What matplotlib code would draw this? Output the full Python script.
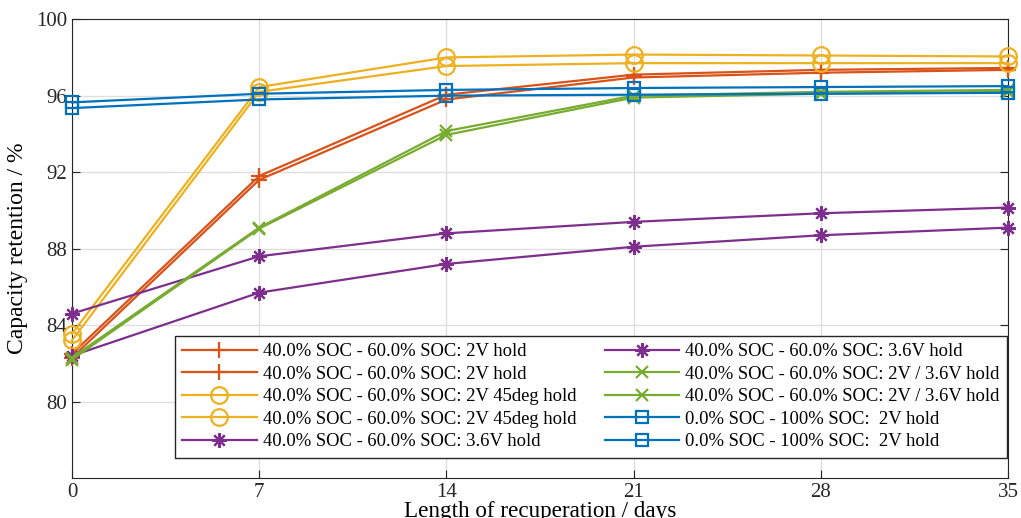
import matplotlib
import matplotlib.pyplot as plt
import numpy as np

matplotlib.rc('font', family='Liberation Serif', size=15)

days = [0, 7, 14, 21, 28, 35]

orange_a = [82.5, 91.8, 96.05, 97.1, 97.35, 97.45]
orange_b = [82.3, 91.6, 95.8, 96.95, 97.2, 97.35]
yellow_a = [83.55, 96.45, 98.0, 98.15, 98.1, 98.05]
yellow_b = [83.2, 96.2, 97.55, 97.7, 97.7, 97.7]
purple_a = [84.6, 87.6, 88.8, 89.4, 89.85, 90.15]
purple_b = [82.4, 85.7, 87.2, 88.1, 88.7, 89.1]
green_a = [82.3, 89.1, 94.15, 96.0, 96.2, 96.3]
green_b = [82.2, 89.05, 93.95, 95.9, 96.1, 96.2]
blue_a = [95.65, 96.1, 96.3, 96.4, 96.45, 96.5]
blue_b = [95.35, 95.8, 96.0, 96.05, 96.1, 96.15]

lbl_2v = '40.0% SOC - 60.0% SOC: 2V hold'
lbl_45 = '40.0% SOC - 60.0% SOC: 2V 45deg hold'
lbl_36 = '40.0% SOC - 60.0% SOC: 3.6V hold'
lbl_mix = '40.0% SOC - 60.0% SOC: 2V / 3.6V hold'
lbl_full = '0.0% SOC - 100% SOC:  2V hold'

series = [
  (orange_a, '#D95319', '+', lbl_2v),
  (orange_b, '#D95319', '+', lbl_2v),
  (yellow_a, '#EDB120', 'o', lbl_45),
  (yellow_b, '#EDB120', 'o', lbl_45),
  (purple_a, '#7E2F8E', (8, 2, 0), lbl_36),
  (purple_b, '#7E2F8E', (8, 2, 0), lbl_36),
  (green_a, '#77AC30', 'x', lbl_mix),
  (green_b, '#77AC30', 'x', lbl_mix),
  (blue_a, '#0072BD', 's', lbl_full),
  (blue_b, '#0072BD', 's', lbl_full),
]

# marker sizes roughly matching the MATLAB look
sizes = {'+': 12, 'o': 12, 'x': 9, 's': 8}

fig = plt.figure(figsize=(10.21, 5.18), dpi=100)
ax = fig.add_axes([0.0705, 0.077, 0.917, 0.886])

for vals, col, mk, lbl in series:
  ms = sizes.get(mk, 10.5) if isinstance(mk, str) else 10.5
  ax.plot(days, vals, color=col, marker=mk, markersize=ms, markerfacecolor='none',
          markeredgewidth=1.6, linewidth=1.6, label=lbl, clip_on=False, zorder=3)

ax.set_xlim(0, 35)
ax.set_ylim(76, 100)
ax.set_xticks(days)
ax.set_yticks([80, 84, 88, 92, 96, 100])
ax.tick_params(direction='in', top=False, right=True, length=6, colors='#262626', labelcolor='#262626')
ax.grid(True, color='#dfdfdf', linewidth=1)
ax.set_axisbelow(True)
for s in ax.spines.values():
  s.set_color('#262626')
ax.set_xlabel('Length of recuperation / days', fontsize=16.7, labelpad=-1)
ax.set_ylabel('Capacity retention / %', fontsize=17, labelpad=6)

leg = ax.legend(ncol=2, loc='lower right', bbox_to_anchor=(0.999, 0.044), borderaxespad=0,
                fontsize=13.4, fancybox=False, edgecolor='#262626', framealpha=1,
                handlelength=4.0, labelspacing=0.3, columnspacing=1.5,
                borderpad=0.4, handletextpad=0.35)
leg.get_frame().set_linewidth(1)
leg.set_zorder(5)

plt.savefig('out.png', dpi=100)
